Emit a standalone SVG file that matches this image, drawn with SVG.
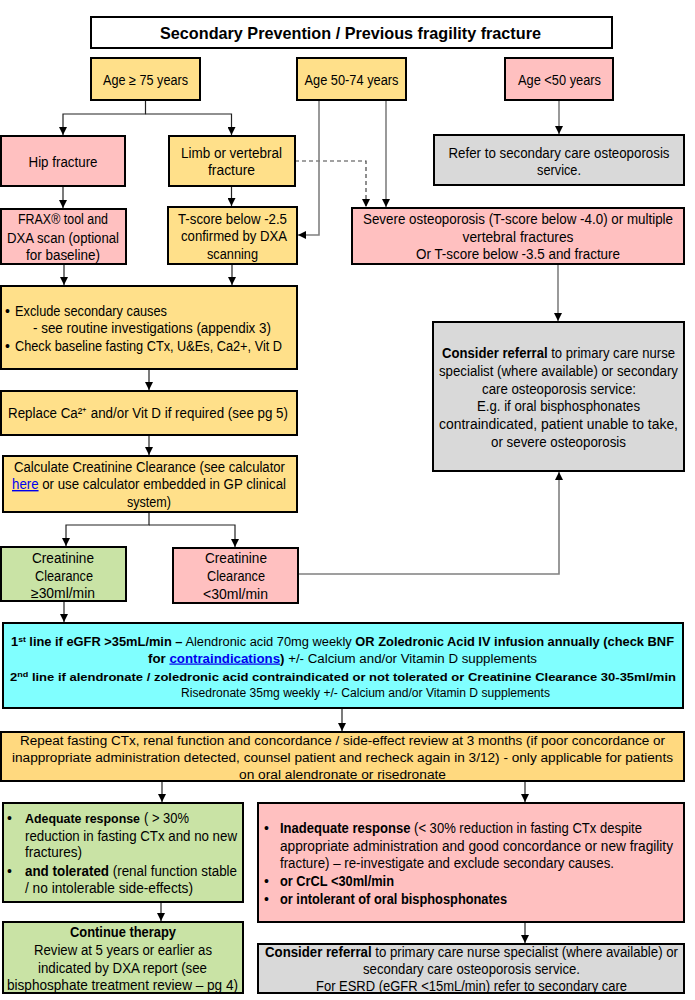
<svg xmlns="http://www.w3.org/2000/svg" width="695" height="1000" viewBox="0 0 695 1000">
<defs>
<style>
.box{stroke:#000;stroke-width:2}
.y{fill:#FFE08A}.p{fill:#FFC0C0}.g{fill:#D9D9D9}.gr{fill:#C9E3A5}.cy{fill:#80FFFF}.w{fill:#fff}.o{fill:#FFD97F}
text{font-family:"Liberation Sans",Arial,sans-serif;font-size:14px;fill:#000}
.m{text-anchor:middle}
.b{font-weight:bold}
.lk{fill:#0000EE;text-decoration:underline}
.sm{font-size:12px}
.c{fill:none;stroke:#222;stroke-width:1.2}
.cg{fill:none;stroke:#808080;stroke-width:1.6}
.d{fill:none;stroke:#444;stroke-width:1.2;stroke-dasharray:4,3}
</style>
<marker id="a" markerUnits="userSpaceOnUse" markerWidth="8" markerHeight="8" refX="8" refY="4" orient="auto"><path d="M0,0 L8,4 L0,8 z" fill="#000"/></marker>
</defs>
<rect width="695" height="1000" fill="#fff"/>

<g id="connectors">
<path class="c" d="M145.5 100 V114 H63 V135" marker-end="url(#a)"/>
<path class="c" d="M145.5 114 H231.5 V135" marker-end="url(#a)"/>
<path class="c" d="M63 186 V208" marker-end="url(#a)"/>
<path class="c" d="M231.5 186 V206" marker-end="url(#a)"/>
<path class="d" d="M295 161 H366 V207" marker-end="url(#a)"/>
<path class="cg" d="M319 100 V235 H298" marker-end="url(#a)"/>
<path class="cg" d="M386 100 V207" marker-end="url(#a)"/>
<path class="cg" d="M559 100 V134" marker-end="url(#a)"/>
<path class="c" d="M64 264 V285" marker-end="url(#a)"/>
<path class="c" d="M232 264 V285" marker-end="url(#a)"/>
<path class="cg" d="M558 264 V321" marker-end="url(#a)"/>
<path class="c" d="M149 369 V390" marker-end="url(#a)"/>
<path class="c" d="M149 435 V455" marker-end="url(#a)"/>
<path class="c" d="M149 512 V525 H66 V546" marker-end="url(#a)"/>
<path class="c" d="M149 525 H235 V547" marker-end="url(#a)"/>
<path class="cg" d="M298 574 H559 V472" marker-end="url(#a)"/>
<path class="c" d="M64 601 V622" marker-end="url(#a)"/>
<path class="c" d="M342 708 V731" marker-end="url(#a)"/>
<path class="c" d="M162 781 V802" marker-end="url(#a)"/>
<path class="c" d="M525 781 V802" marker-end="url(#a)"/>
<path class="c" d="M161 902 V921" marker-end="url(#a)"/>
<path class="c" d="M525 922 V943" marker-end="url(#a)"/>
</g>

<g id="title"><rect class="box w" x="91" y="17" width="521" height="31"/>
<text class="m b" x="350.5" y="39" style="font-size:17px" textLength="381" lengthAdjust="spacingAndGlyphs">Secondary Prevention / Previous fragility fracture</text></g>

<g id="age75"><rect class="box y" x="91" y="58" width="109" height="42"/>
<text class="m" x="145.5" y="85" textLength="85" lengthAdjust="spacingAndGlyphs">Age ≥ 75 years</text></g>

<g id="age5074"><rect class="box y" x="297" y="58" width="109" height="42"/>
<text class="m" x="351.5" y="85" textLength="94" lengthAdjust="spacingAndGlyphs">Age 50-74 years</text></g>

<g id="age50"><rect class="box p" x="505" y="58" width="108" height="42"/>
<text class="m" x="559.5" y="85" textLength="83" lengthAdjust="spacingAndGlyphs">Age &lt;50 years</text></g>

<g id="hip"><rect class="box p" x="1" y="136" width="124" height="50"/>
<text class="m" x="63" y="167" textLength="69" lengthAdjust="spacingAndGlyphs">Hip fracture</text></g>

<g id="limb"><rect class="box y" x="169" y="136" width="126" height="50"/>
<text class="m" x="231.5" y="158" textLength="101" lengthAdjust="spacingAndGlyphs">Limb or vertebral</text>
<text class="m" x="231.5" y="175" textLength="47" lengthAdjust="spacingAndGlyphs">fracture</text></g>

<g id="refer"><rect class="box g" x="434" y="135" width="250" height="50"/>
<text class="m" x="559" y="158" textLength="221" lengthAdjust="spacingAndGlyphs">Refer to secondary care osteoporosis</text>
<text class="m" x="559" y="175" textLength="44" lengthAdjust="spacingAndGlyphs">service.</text></g>

<g id="frax"><rect class="box p" x="1" y="209" width="125" height="55"/>
<text class="m" x="63" y="224" textLength="90" lengthAdjust="spacingAndGlyphs">FRAX® tool and</text>
<text class="m" x="63" y="243" textLength="112" lengthAdjust="spacingAndGlyphs">DXA scan (optional</text>
<text class="m" x="63" y="260" textLength="74" lengthAdjust="spacingAndGlyphs">for baseline)</text></g>

<g id="tscore"><rect class="box y" x="168" y="207" width="129" height="57"/>
<text class="m" x="232.5" y="224" textLength="109" lengthAdjust="spacingAndGlyphs">T-score below -2.5</text>
<text class="m" x="234" y="241" textLength="106" lengthAdjust="spacingAndGlyphs">confirmed by DXA</text>
<text class="m" x="232.5" y="259" textLength="51" lengthAdjust="spacingAndGlyphs">scanning</text></g>

<g id="severe"><rect class="box p" x="352" y="208" width="332" height="56"/>
<text class="m" x="518" y="224" textLength="310" lengthAdjust="spacingAndGlyphs">Severe osteoporosis (T-score below -4.0) or multiple</text>
<text class="m" x="518" y="242" textLength="111" lengthAdjust="spacingAndGlyphs">vertebral fractures</text>
<text class="m" x="518" y="259" textLength="204" lengthAdjust="spacingAndGlyphs">Or T-score below -3.5 and fracture</text></g>

<g id="exclude"><rect class="box y" x="1" y="286" width="296" height="83"/>
<text x="5" y="316">•</text>
<text x="15" y="316" textLength="152" lengthAdjust="spacingAndGlyphs">Exclude secondary causes</text>
<text x="33" y="333" textLength="238" lengthAdjust="spacingAndGlyphs">- see routine investigations (appendix 3)</text>
<text x="5" y="351">•</text>
<text x="15" y="351" textLength="267" lengthAdjust="spacingAndGlyphs">Check baseline fasting CTx, U&amp;Es, Ca2+, Vit D</text></g>

<g id="consider1"><rect class="box g" x="433" y="322" width="251" height="149"/>
<text class="m" x="558.5" y="358" textLength="233" lengthAdjust="spacingAndGlyphs"><tspan class="b">Consider referral</tspan> to primary care nurse</text>
<text class="m" x="558.5" y="376" textLength="239" lengthAdjust="spacingAndGlyphs">specialist (where available) or secondary</text>
<text class="m" x="559" y="393.5" textLength="154" lengthAdjust="spacingAndGlyphs">care osteoporosis service:</text>
<text class="m" x="558.5" y="411" textLength="163" lengthAdjust="spacingAndGlyphs">E.g. if oral bisphosphonates</text>
<text class="m" x="558.5" y="429" textLength="239" lengthAdjust="spacingAndGlyphs">contraindicated,  patient unable to take,</text>
<text class="m" x="558.5" y="446.5" textLength="135" lengthAdjust="spacingAndGlyphs">or severe osteoporosis</text></g>

<g id="replace"><rect class="box y" x="1" y="391" width="296" height="44"/>
<text x="8" y="418" textLength="280" lengthAdjust="spacingAndGlyphs">Replace Ca²⁺ and/or Vit D  if required (see pg 5)</text></g>

<g id="calc"><rect class="box y" x="3" y="456" width="294" height="56"/>
<text class="m" x="149.5" y="472" textLength="271" lengthAdjust="spacingAndGlyphs">Calculate Creatinine Clearance (see calculator</text>
<text class="m" x="149" y="489" textLength="274" lengthAdjust="spacingAndGlyphs"><tspan class="lk">here</tspan> or use calculator embedded in GP clinical</text>
<text class="m" x="149" y="507" textLength="44" lengthAdjust="spacingAndGlyphs">system)</text></g>

<g id="creat30"><rect class="box gr" x="1" y="547" width="125" height="54"/>
<text class="m" x="63" y="563" textLength="62" lengthAdjust="spacingAndGlyphs">Creatinine</text>
<text class="m" x="64" y="581" textLength="58" lengthAdjust="spacingAndGlyphs">Clearance</text>
<text class="m" x="63" y="598" textLength="64" lengthAdjust="spacingAndGlyphs">≥30ml/min</text></g>

<g id="creatlt30"><rect class="box p" x="173" y="548" width="125" height="55"/>
<text class="m" x="236" y="563" textLength="62" lengthAdjust="spacingAndGlyphs">Creatinine</text>
<text class="m" x="236" y="581" textLength="58" lengthAdjust="spacingAndGlyphs">Clearance</text>
<text class="m" x="235.5" y="598.5" textLength="65" lengthAdjust="spacingAndGlyphs">&lt;30ml/min</text></g>

<g id="firstline"><rect class="box cy" x="3" y="623" width="680" height="85"/>
<text class="sm" x="11" y="645.5" textLength="663" lengthAdjust="spacingAndGlyphs"><tspan class="b">1<tspan font-size="8" baseline-shift="super">st</tspan> line if eGFR &gt;35mL/min –</tspan> Alendronic acid 70mg weekly <tspan class="b">OR Zoledronic Acid IV infusion annually (check BNF</tspan></text>
<text class="sm" x="148" y="662.5" textLength="389" lengthAdjust="spacingAndGlyphs"><tspan class="b">for <tspan class="lk">contraindications</tspan>)</tspan> +/- Calcium and/or Vitamin D supplements</text>
<text class="b" style="font-size:11.5px" x="10" y="680.5" textLength="666" lengthAdjust="spacingAndGlyphs">2<tspan font-size="8" baseline-shift="super">nd</tspan> line if alendronate / zoledronic acid contraindicated or not tolerated or Creatinine Clearance 30-35ml/min</text>
<text class="sm" x="181" y="696.5" textLength="369" lengthAdjust="spacingAndGlyphs">Risedronate 35mg weekly  +/- Calcium and/or Vitamin D supplements</text></g>

<g id="repeat"><rect class="box o" x="1" y="732" width="683" height="49"/>
<text class="sm" x="20" y="744.5" textLength="645" lengthAdjust="spacingAndGlyphs">Repeat fasting CTx, renal function  and concordance / side-effect review at 3 months (if poor concordance or</text>
<text class="sm" x="12" y="761.5" textLength="661" lengthAdjust="spacingAndGlyphs">inappropriate administration detected, counsel patient and recheck again in 3/12) - only applicable for patients</text>
<text class="sm" x="239" y="778.5" textLength="207" lengthAdjust="spacingAndGlyphs">on oral alendronate or risedronate</text></g>

<g id="adequate"><rect class="box gr" x="3" y="803" width="240" height="99"/>
<text x="7" y="823">•</text>
<text class="b" style="font-size:12.5px" x="25" y="823" textLength="115" lengthAdjust="spacingAndGlyphs">Adequate response</text>
<text x="144" y="823" textLength="45" lengthAdjust="spacingAndGlyphs">( &gt; 30%</text>
<text x="25" y="841" textLength="212" lengthAdjust="spacingAndGlyphs">reduction in fasting CTx and no new</text>
<text x="25" y="857" textLength="57" lengthAdjust="spacingAndGlyphs">fractures)</text>
<text x="7" y="876">•</text>
<text x="25" y="876" textLength="212" lengthAdjust="spacingAndGlyphs"><tspan class="b">and tolerated</tspan> (renal function stable</text>
<text x="25" y="893" textLength="168" lengthAdjust="spacingAndGlyphs">/ no intolerable side-effects)</text></g>

<g id="inadequate"><rect class="box p" x="258" y="803" width="426" height="119"/>
<text x="264" y="833">•</text>
<text x="280" y="833" textLength="362" lengthAdjust="spacingAndGlyphs"><tspan class="b">Inadequate response</tspan> (&lt; 30% reduction in fasting CTx despite</text>
<text x="280" y="851" textLength="393" lengthAdjust="spacingAndGlyphs">appropriate administration and good concordance or new fragility</text>
<text x="280" y="868" textLength="334" lengthAdjust="spacingAndGlyphs">fracture) – re-investigate and exclude secondary causes.</text>
<text x="264" y="886">•</text>
<text class="b" x="280" y="886" textLength="114" lengthAdjust="spacingAndGlyphs">or CrCL &lt;30ml/min</text>
<text x="264" y="904">•</text>
<text class="b" x="280" y="904" textLength="227" lengthAdjust="spacingAndGlyphs">or intolerant of oral bisphosphonates</text></g>

<g id="continue"><rect class="box gr" x="3" y="922" width="240" height="71"/>
<text class="b" x="70" y="937" textLength="106" lengthAdjust="spacingAndGlyphs">Continue therapy</text>
<text x="34" y="955" textLength="178" lengthAdjust="spacingAndGlyphs">Review at 5 years or earlier as</text>
<text x="38" y="973" textLength="169" lengthAdjust="spacingAndGlyphs">indicated by DXA report (see</text>
<text x="7" y="990" textLength="231" lengthAdjust="spacingAndGlyphs">bisphosphate treatment review – pg 4)</text></g>

<g id="consider2"><rect class="box g" x="258" y="944" width="426" height="49"/>
<text x="265" y="957" textLength="413" lengthAdjust="spacingAndGlyphs"><tspan class="b">Consider referral</tspan> to primary care nurse specialist (where available) or</text>
<text x="363" y="974" textLength="217" lengthAdjust="spacingAndGlyphs">secondary care osteoporosis service.</text>
<text x="316" y="991" textLength="311" lengthAdjust="spacingAndGlyphs">For ESRD (eGFR &lt;15mL/min) refer to secondary care</text></g>
</svg>
